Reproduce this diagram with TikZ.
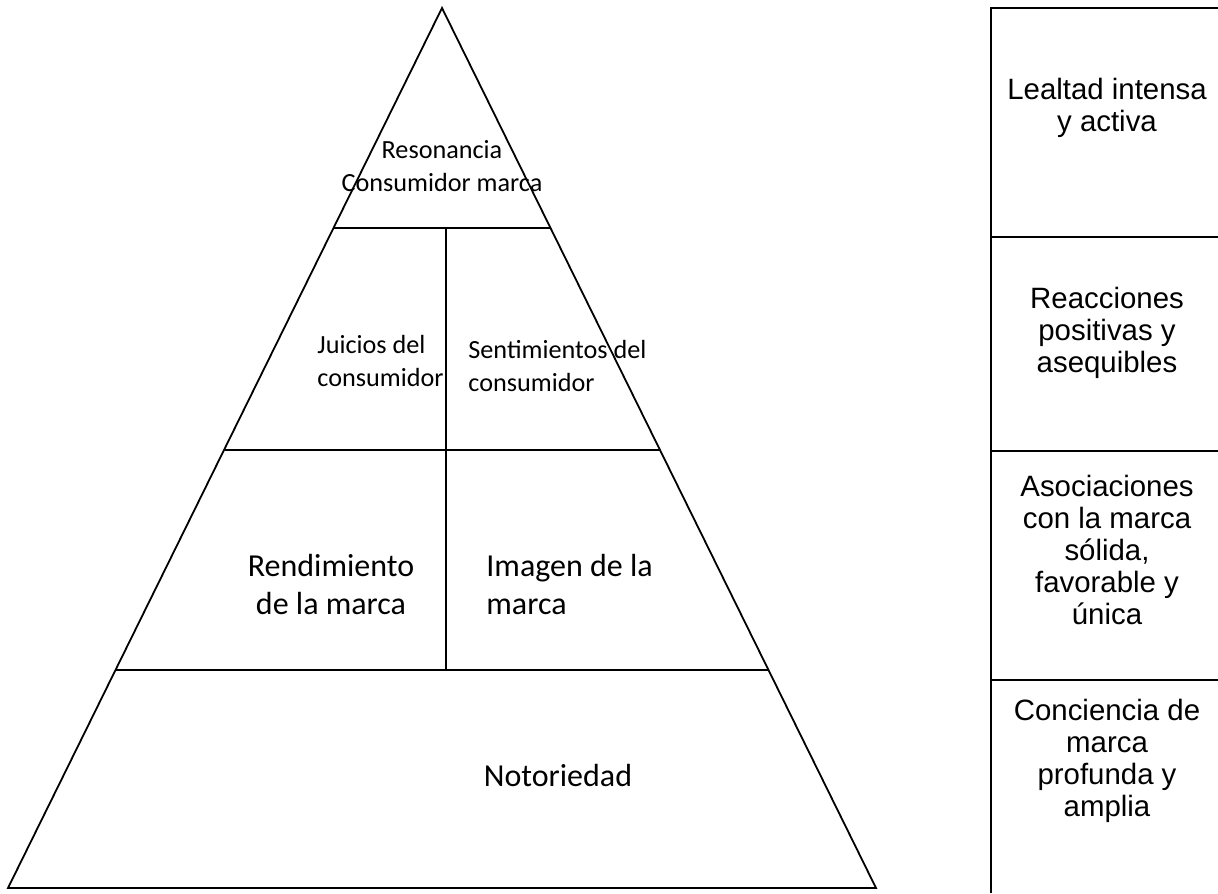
\documentclass[tikz,border=0pt]{standalone}
\usepackage{fontspec}
\newfontfamily\calibrifont{Carlito}
\newfontfamily\arialfont{Liberation Sans}
\usetikzlibrary{positioning}

\tikzset{
  pyr/.style={line width=0.9pt},
  lvl/.style={line width=1.4pt},
  smalltxt/.style={inner sep=0pt, font=\calibrifont\fontsize{13.1}{16.5}\selectfont},
  bigtxt/.style={inner sep=0pt, font=\calibrifont\fontsize{16}{19}\selectfont},
  sidetxt/.style={inner sep=0pt, align=center, font=\arialfont\fontsize{14.7}{16.1}\selectfont}
}

\begin{document}
\begin{tikzpicture}[x=0.5pt,y=-0.5pt]
  \useasboundingbox (0,0) rectangle (1218,893);
  % pyramid
  \coordinate (apex) at (442,8);
  \coordinate (bl) at (8,888);
  \coordinate (br) at (876,888);
  \draw[pyr] (apex) -- (bl) -- (br) -- cycle;
  \draw[pyr] (333,228) -- (551,228);
  \draw[pyr] (225,450) -- (659,450);
  \draw[pyr] (116,670) -- (768,670);
  \draw[pyr] (446,228) -- (446,670);

  \node[smalltxt, align=center] (reso) at (442,166) {Resonancia\\Consumidor marca};
  \node[smalltxt, align=left, anchor=west] (juic) at (317,361) {Juicios del\\consumidor};
  \node[smalltxt, align=left, anchor=west] (sent) at (468,366) {Sentimientos del\\consumidor};
  \node[bigtxt, align=center] (rend) at (331,584) {Rendimiento\\de la marca};
  \node[bigtxt, align=left, anchor=west] (imag) at (486,584) {Imagen de la\\marca};
  \node[bigtxt] (noto) at (558,775) {Notoriedad};

  % side levels
  \draw[lvl] (1218,8) -- (991,8) -- (991,893);
  \draw[lvl] (991,237) -- (1218,237);
  \draw[lvl] (991,451) -- (1218,451);
  \draw[lvl] (991,680) -- (1218,680);

  \node[sidetxt] (leal) at (1107,108) {Lealtad intensa\\y activa};
  \node[sidetxt] (reac) at (1107,333) {Reacciones\\positivas y\\asequibles};
  \node[sidetxt] (asoc) at (1107,550) {Asociaciones\\con la marca\\sólida,\\favorable y\\única};
  \node[sidetxt] (conc) at (1107,761) {Conciencia de\\marca\\profunda y\\amplia};
\end{tikzpicture}
\end{document}
